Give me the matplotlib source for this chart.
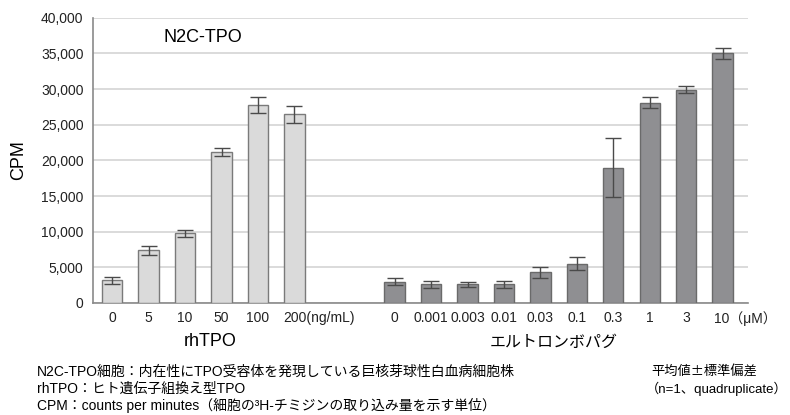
import numpy as np
import matplotlib.pyplot as plt
from matplotlib.ticker import FuncFormatter
from matplotlib.transforms import ScaledTranslation

plt.rcParams['font.family'] = ['Liberation Sans', 'Noto Sans CJK JP', 'DejaVu Sans']

# データ
rh_labels = ['0', '5', '10', '50', '100', '200']
rh_values = [3200, 7400, 9800, 21200, 27800, 26500]
rh_err = [500, 650, 500, 600, 1100, 1200]

el_labels = ['0', '0.001', '0.003', '0.01', '0.03', '0.1', '0.3', '1', '3', '10']
el_values = [3000, 2600, 2600, 2600, 4300, 5500, 19000, 28100, 29900, 35000]
el_err = [500, 500, 400, 500, 800, 900, 4200, 800, 500, 800]

rh_x = np.arange(len(rh_values))
el_x = 7.75 + np.arange(len(el_values))

fig = plt.figure(figsize=(7.9, 4.15), dpi=100)
ax = fig.add_axes([0.118, 0.270, 0.829, 0.687])

w = 0.56
ekw = dict(ecolor='#4a4a4a', elinewidth=1.0, capsize=5.5, capthick=1.0)
ax.bar(rh_x, rh_values, w, color='#dadada', edgecolor='#7a7a7a', linewidth=1.0,
       yerr=rh_err, error_kw=ekw, zorder=3)
ax.bar(el_x, el_values, w, color='#8f8f92', edgecolor='#6a6a6a', linewidth=1.0,
       yerr=el_err, error_kw=ekw, zorder=3)

ax.set_ylim(0, 40000)
ax.set_xlim(-0.52, 17.45)
ax.set_yticks(np.arange(0, 40001, 5000))
ax.yaxis.set_major_formatter(FuncFormatter(lambda v, p: f'{int(v):,}'))
ax.grid(axis='y', color='#d4d4d4', linewidth=1.2, zorder=0)
ax.tick_params(axis='y', length=0, labelsize=10, colors='#222222', pad=7)
ax.tick_params(axis='x', length=0, labelsize=10, colors='#222222', pad=6)
for s in ['top', 'right']:
    ax.spines[s].set_visible(False)
for s in ['left', 'bottom']:
    ax.spines[s].set_color('#8a8a8a')
    ax.spines[s].set_linewidth(1.2)

# 最後の目盛りは単位付きで別に書く
ax.set_xticks(list(rh_x) + list(el_x))
ax.set_xticklabels(rh_labels[:-1] + [''] + el_labels[:-1] + [''])
for lab in ax.get_xticklabels():
    if lab.get_text() in ('0.001', '0.003'):
        lab.set_fontfamily(['Liberation Sans Narrow', 'Liberation Sans'])
ax.set_ylabel('CPM', fontsize=13, labelpad=10)

xt = ax.get_xaxis_transform()
ax.text(rh_x[-1], 0, rh_labels[-1] + '(ng/mL)',
        transform=xt + ScaledTranslation(-0.116, -6 / 72, fig.dpi_scale_trans),
        ha='left', va='top', fontsize=10, color='#222222')
ax.text(el_x[-1], 0, el_labels[-1] + '（μM）',
        transform=xt + ScaledTranslation(-0.09, -6 / 72, fig.dpi_scale_trans),
        ha='left', va='top', fontsize=10, color='#222222')

ax.text(0.108, 0.93, 'N2C-TPO', transform=ax.transAxes, fontsize=13,
        ha='left', va='center')

fig.text(0.266, 0.176, 'rhTPO', fontsize=13, ha='center', va='center')
fig.text(0.701, 0.176, 'エルトロンボパグ', fontsize=11.5, ha='center', va='center')

fs = 10
fig.text(0.047, 0.104, 'N2C-TPO細胞：内在性にTPO受容体を発現している巨核芽球性白血病細胞株',
         fontsize=fs, va='center')
fig.text(0.047, 0.063, 'rhTPO：ヒト遺伝子組換え型TPO', fontsize=fs, va='center')
fig.text(0.047, 0.024, 'CPM：counts per minutes（細胞の³H-チミジンの取り込み量を示す単位）',
         fontsize=fs, va='center')
fig.text(0.825, 0.104, '平均値±標準偏差', fontsize=9.5, va='center',
         family=['Noto Sans CJK JP', 'DejaVu Sans'])
fig.text(0.818, 0.063, '（n=1、quadruplicate）', fontsize=9.5, va='center')

plt.savefig('out.png', dpi=100)
